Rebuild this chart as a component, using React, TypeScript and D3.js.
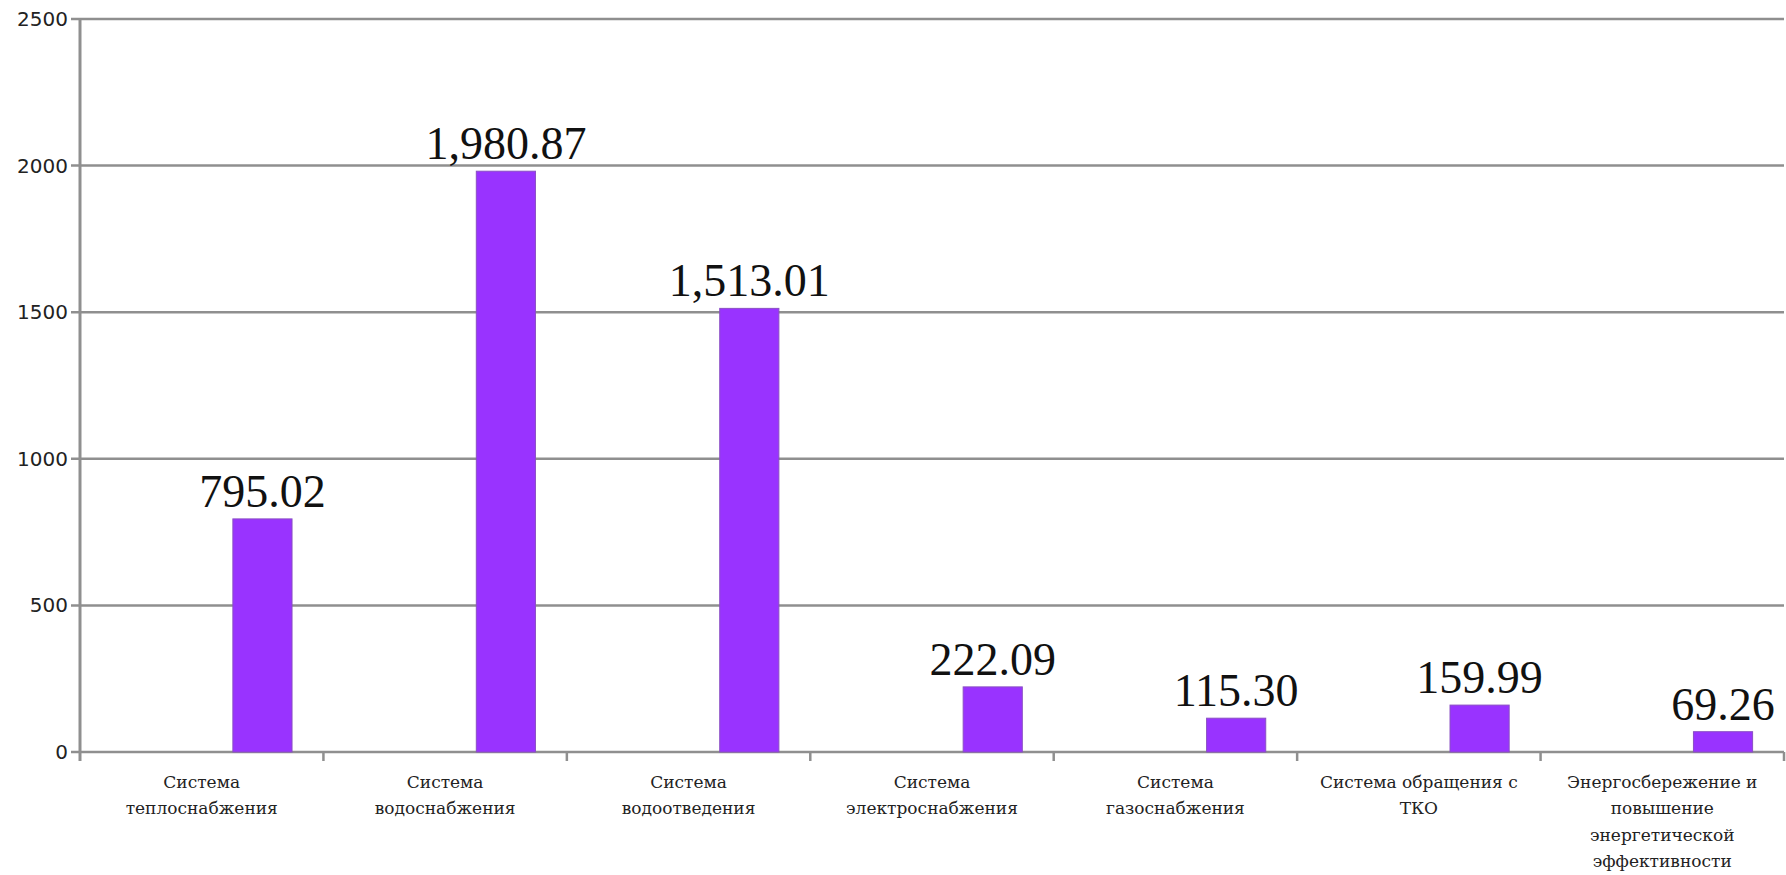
import React from "react";
import * as d3 from "d3";

const categories: string[][] = [
  ["Система", "теплоснабжения"],
  ["Система", "водоснабжения"],
  ["Система", "водоотведения"],
  ["Система", "электроснабжения"],
  ["Система", "газоснабжения"],
  ["Система обращения с", "ТКО"],
  ["Энергосбережение и", "повышение", "энергетической", "эффективности"],
];
const values: number[] = [795.02, 1980.87, 1513.01, 222.09, 115.3, 159.99, 69.26];
const yTicks: number[] = [0, 500, 1000, 1500, 2000, 2500];

const W = 1786;
const H = 875;
const left = 80;
const right = 1784;
const top = 19;
const bottom = 752;

export default function App() {
  const x = d3
    .scaleBand<number>()
    .domain(values.map((_, i) => i))
    .range([left, right])
    .paddingInner(0)
    .paddingOuter(0);
  const y = d3.scaleLinear().domain([0, 2500]).range([bottom, top]);
  const bw = x.bandwidth();
  const fmt = d3.format(",.2f");
  const grid = "#8f8f8f";

  return (
    <svg
      width={W}
      height={H}
      style={{ position: "absolute", left: 0, top: 0, background: "#fff" }}
    >
      {yTicks.map((t) => (
        <g key={t}>
          <line x1={left - 9} x2={right} y1={y(t)} y2={y(t)} stroke={grid} strokeWidth={2.5} />
          <text
            x={left - 12}
            y={y(t)}
            dy="0.35em"
            textAnchor="end"
            fontFamily="DejaVu Sans"
            fontSize={20}
            fill="#222"
          >
            {t}
          </text>
        </g>
      ))}
      <line x1={left} x2={left} y1={top} y2={bottom + 9} stroke={grid} strokeWidth={3} />
      {values.map((_, i) => (
        <line
          key={"t" + i}
          x1={(x(i) as number) + bw}
          x2={(x(i) as number) + bw}
          y1={bottom}
          y2={bottom + 9}
          stroke={grid}
          strokeWidth={2.5}
        />
      ))}
      {values.map((v, i) => {
        const bx = (x(i) as number) + bw * 0.628;
        const w = bw * 0.243;
        return (
          <g key={"b" + i}>
            <rect
              x={bx}
              y={y(v)}
              width={w}
              height={bottom - y(v)}
              fill="#9933FF"
              stroke="#8a4fc4"
              strokeWidth={1}
            />
            <text
              x={bx + w / 2}
              y={y(v) - 12}
              textAnchor="middle"
              fontFamily="Liberation Serif"
              fontSize={46}
              fill="#111"
            >
              {fmt(v)}
            </text>
          </g>
        );
      })}
      {categories.map((lines, i) => (
        <text
          key={"c" + i}
          x={(x(i) as number) + bw / 2}
          y={788}
          textAnchor="middle"
          fontFamily="DejaVu Serif"
          fontSize={17}
          fill="#222"
        >
          {lines.map((l, k) => (
            <tspan key={k} x={(x(i) as number) + bw / 2} dy={k === 0 ? 0 : 26.3}>
              {l}
            </tspan>
          ))}
        </text>
      ))}
    </svg>
  );
}
